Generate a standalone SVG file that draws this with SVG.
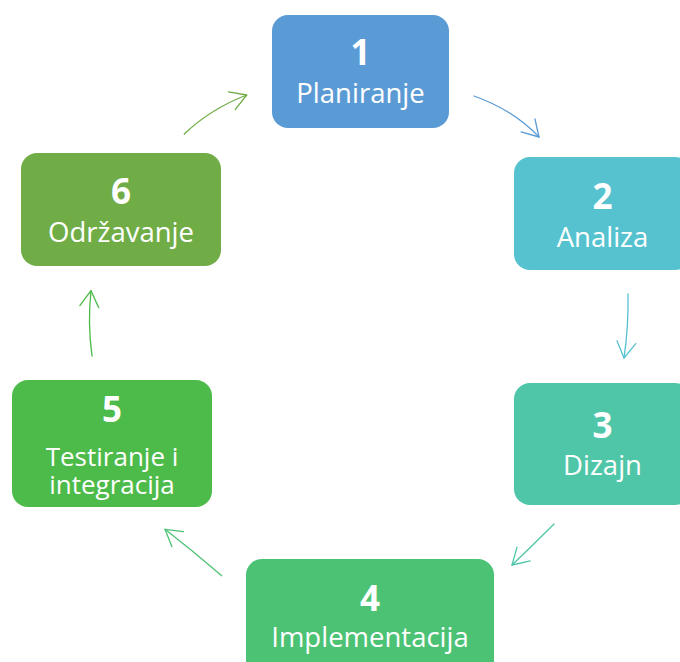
<svg xmlns="http://www.w3.org/2000/svg" width="680" height="662" viewBox="0 0 680 662">
<defs>
<style>
.box{stroke:none}
.num{font-family:"Open Sans","Noto Sans","Liberation Sans",sans-serif;font-weight:bold;font-size:35px;fill:#fff;text-anchor:middle}
.lbl{font-family:"Open Sans","Noto Sans","Liberation Sans",sans-serif;font-size:27.5px;fill:#fff;text-anchor:middle}
.lbl2{font-family:"Open Sans","Noto Sans","Liberation Sans",sans-serif;font-size:26px;fill:#fff;text-anchor:middle}
.arr{fill:none;stroke-width:1.3;stroke-linecap:round}
</style>
<marker id="a1" markerUnits="userSpaceOnUse" viewBox="-20 -12 24 24" refX="0" refY="0" markerWidth="24" markerHeight="24" orient="auto" overflow="visible"><path d="M-16,-9.5 L0,0 L-16,9.5" fill="none" stroke="#5B9BD5" stroke-width="1.3" stroke-linecap="round" stroke-linejoin="round"/></marker>
<marker id="a2" markerUnits="userSpaceOnUse" viewBox="-20 -12 24 24" refX="0" refY="0" markerWidth="24" markerHeight="24" orient="auto" overflow="visible"><path d="M-16,-9.5 L0,0 L-16,9.5" fill="none" stroke="#56C2CF" stroke-width="1.3" stroke-linecap="round" stroke-linejoin="round"/></marker>
<marker id="a3" markerUnits="userSpaceOnUse" viewBox="-20 -12 24 24" refX="0" refY="0" markerWidth="24" markerHeight="24" orient="auto" overflow="visible"><path d="M-16,-9.5 L0,0 L-16,9.5" fill="none" stroke="#50C6A8" stroke-width="1.3" stroke-linecap="round" stroke-linejoin="round"/></marker>
<marker id="a4" markerUnits="userSpaceOnUse" viewBox="-20 -12 24 24" refX="0" refY="0" markerWidth="24" markerHeight="24" orient="auto" overflow="visible"><path d="M-16,-9.5 L0,0 L-16,9.5" fill="none" stroke="#4CC275" stroke-width="1.3" stroke-linecap="round" stroke-linejoin="round"/></marker>
<marker id="a5" markerUnits="userSpaceOnUse" viewBox="-20 -12 24 24" refX="0" refY="0" markerWidth="24" markerHeight="24" orient="auto" overflow="visible"><path d="M-16,-9.5 L0,0 L-16,9.5" fill="none" stroke="#4CBB4A" stroke-width="1.3" stroke-linecap="round" stroke-linejoin="round"/></marker>
<marker id="a6" markerUnits="userSpaceOnUse" viewBox="-20 -12 24 24" refX="0" refY="0" markerWidth="24" markerHeight="24" orient="auto" overflow="visible"><path d="M-16,-9.5 L0,0 L-16,9.5" fill="none" stroke="#70AD47" stroke-width="1.3" stroke-linecap="round" stroke-linejoin="round"/></marker>
</defs>
<rect width="680" height="662" fill="#fff"/>
<g id="connectors">
<path class="arr" stroke="#5B9BD5" marker-end="url(#a1)" d="M474,96 Q513.5,110 539,137"/>
<path class="arr" stroke="#56C2CF" marker-end="url(#a2)" d="M628,294 Q628.6,327.4 624,358"/>
<path class="arr" stroke="#50C6A8" marker-end="url(#a3)" d="M554,524 Q532,546 512,565"/>
<path class="arr" stroke="#4CC275" marker-end="url(#a4)" d="M221.7,575.7 Q193,551 165,529.3"/>
<path class="arr" stroke="#4CBB4A" marker-end="url(#a5)" d="M92,356 Q87.5,323 91,290.7"/>
<path class="arr" stroke="#70AD47" marker-end="url(#a6)" d="M184.3,134 Q210.5,108.9 246.7,95"/>
</g>
<g id="node1">
<rect class="box" x="272" y="15" width="177" height="113" rx="16" fill="#5B9BD5"/>
<text class="num" x="360.5" y="65">1</text>
<text class="lbl" x="360.5" y="103">Planiranje</text>
</g>
<g id="node2">
<rect class="box" x="514" y="157" width="177" height="113" rx="16" fill="#56C2CF"/>
<text class="num" x="602.5" y="209">2</text>
<text class="lbl" x="602.5" y="247">Analiza</text>
</g>
<g id="node3">
<rect class="box" x="514" y="383" width="177" height="122" rx="16" fill="#50C6A8"/>
<text class="num" x="602.5" y="438">3</text>
<text class="lbl" x="602.5" y="475">Dizajn</text>
</g>
<g id="node4">
<rect class="box" x="246" y="559" width="248" height="120" rx="16" fill="#4CC275"/>
<text class="num" x="370" y="611">4</text>
<text class="lbl" x="370" y="647">Implementacija</text>
</g>
<g id="node5">
<rect class="box" x="12" y="380" width="200" height="127" rx="16" fill="#4CBB4A"/>
<text class="num" x="112" y="422">5</text>
<text class="lbl2" x="112" y="466">Testiranje i</text>
<text class="lbl2" x="112" y="494">integracija</text>
</g>
<g id="node6">
<rect class="box" x="21" y="153" width="200" height="113" rx="16" fill="#70AD47"/>
<text class="num" x="121" y="204">6</text>
<text class="lbl" x="121" y="242">Održavanje</text>
</g>
</svg>
